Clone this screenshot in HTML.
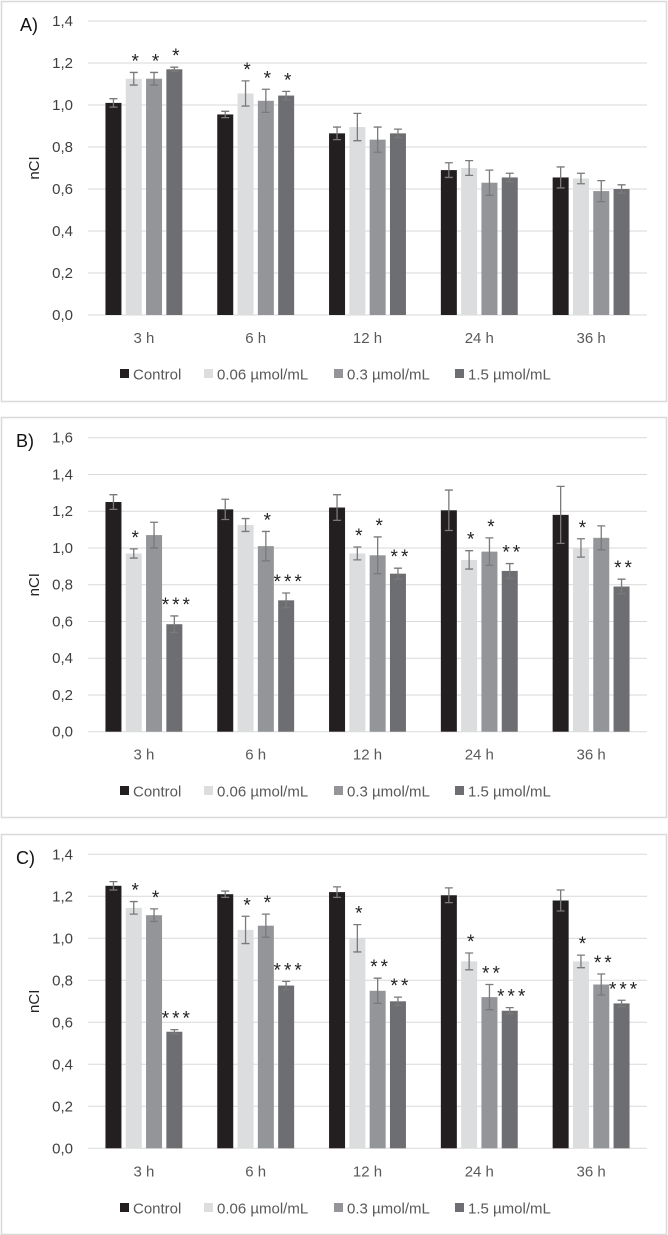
<!DOCTYPE html>
<html><head><meta charset="utf-8">
<style>
body{margin:0;background:#fff;width:668px;height:1235px;overflow:hidden;font-family:"Liberation Sans",sans-serif}
svg{display:block}
</style></head>
<body>
<svg id="fig" width="668" height="1235" xmlns="http://www.w3.org/2000/svg"></svg>
<script>
const categories = ["3 h","6 h","12 h","24 h","36 h"];
const seriesNames = ["Control","0.06 µmol/mL","0.3 µmol/mL","1.5 µmol/mL"];
const seriesColors = ["#231f20","#dcddde","#939598","#6d6e71"];

const aControl = [1.01,0.955,0.865,0.69,0.655];
const aLow = [1.125,1.055,0.895,0.70,0.65];
const aMid = [1.125,1.02,0.835,0.63,0.59];
const aHigh = [1.17,1.045,0.865,0.655,0.60];
const aErrControl = [0.02,0.015,0.03,0.035,0.05];
const aErrLow = [0.03,0.06,0.065,0.035,0.025];
const aErrMid = [0.03,0.055,0.06,0.06,0.05];
const aErrHigh = [0.01,0.02,0.02,0.02,0.02];
const aStars = [["","*","*","*"],["","*","*","*"],["","","",""],["","","",""],["","","",""]];
const aTicks = ["0,0","0,2","0,4","0,6","0,8","1,0","1,2","1,4"];

const bControl = [1.25,1.21,1.22,1.205,1.18];
const bLow = [0.97,1.125,0.97,0.935,1.0];
const bMid = [1.07,1.01,0.96,0.98,1.055];
const bHigh = [0.585,0.715,0.86,0.875,0.79];
const bErrControl = [0.04,0.055,0.07,0.11,0.155];
const bErrLow = [0.025,0.035,0.035,0.05,0.05];
const bErrMid = [0.07,0.08,0.1,0.075,0.065];
const bErrHigh = [0.045,0.04,0.03,0.04,0.04];
const bStars = [["","*","","***"],["","","*","***"],["","*","*","**"],["","*","*","**"],["","*","","**"]];
const bTicks = ["0,0","0,2","0,4","0,6","0,8","1,0","1,2","1,4","1,6"];

const cControl = [1.25,1.21,1.22,1.205,1.18];
const cLow = [1.145,1.04,1.0,0.89,0.89];
const cMid = [1.11,1.06,0.75,0.72,0.78];
const cHigh = [0.555,0.775,0.70,0.655,0.69];
const cErrControl = [0.02,0.015,0.025,0.035,0.05];
const cErrLow = [0.03,0.065,0.065,0.04,0.03];
const cErrMid = [0.03,0.055,0.06,0.06,0.05];
const cErrHigh = [0.01,0.02,0.02,0.015,0.015];
const cStars = [["","*","*","***"],["","*","*","***"],["","*","**","**"],["","*","**","***"],["","*","**","***"]];
const cTicks = ["0,0","0,2","0,4","0,6","0,8","1,0","1,2","1,4"];

const NS="http://www.w3.org/2000/svg";
const svg=document.getElementById('fig');
function mk(tag,attrs,parent){const e=document.createElementNS(NS,tag);for(const k in attrs)e.setAttribute(k,attrs[k]);(parent||svg).appendChild(e);return e;}

function panel(cfg){
  const g=mk('g',{});
  
  
  const box=mk('rect',{x:1.5,y:cfg.top+0.5,width:665,height:400,fill:'#fff',stroke:'#d9d9d9','stroke-width':1.5},g);
  
  
  const x0=88,x1=647,y0=cfg.y0,y1=cfg.yTop,ymax=cfg.ymax;
  const yS=v=>y0-(v/ymax)*(y0-y1);
  const gw=(x1-x0)/categories.length;
  const bw=16,gap=4.3;
  const xS=(ci,si)=>x0+ci*gw+(gw-(4*bw+3*gap))/2+si*(bw+gap);
  cfg.ticks.forEach((t,i)=>{
    const v=i*0.2;const y=yS(v);
    const gl=mk('line',{x1:x0,x2:x1,y1:y,y2:y,stroke:'#d9d9d9','stroke-width':1},g);
    
    
    const tl=mk('text',{x:73,y:y+5,'text-anchor':'end','font-size':15,fill:'#404040'},g);
    tl.textContent=t;
    
    
  });
  const yt=mk('text',{x:39,y:(y0+y1)/2,'text-anchor':'middle','font-size':15,fill:'#222',transform:`rotate(-90 39 ${(y0+y1)/2})`},g);
  yt.textContent='nCI';
  
  
  const pl=mk('text',{x:cfg.labelX,y:cfg.top+30,'font-size':18,fill:'#111'},g);
  pl.textContent=cfg.id+')';
  
  
  categories.forEach((c,ci)=>{
    const cl=mk('text',{x:x0+ci*gw+gw/2,y:y0+28,'text-anchor':'middle','font-size':15,fill:'#595959'},g);
    cl.textContent=c;
    
    
    for(let si=0;si<4;si++){
      const v=cfg.vals[si][ci],e=cfg.errs[si][ci];
      const x=xS(ci,si);
      const r=mk('rect',{x:x,y:yS(v),width:bw,height:y0-yS(v),fill:seriesColors[si]},g);
      
      
      const cx=x+bw/2,ya=yS(v+e),yb=yS(v-e);
      const eb=mk('path',{d:`M${cx},${ya}V${yb}M${cx-4},${ya}H${cx+4}M${cx-4},${yb}H${cx+4}`,stroke:'#7a7a7a','stroke-width':1.3,fill:'none'},g);
      
      
      const s=cfg.stars[ci][si];
      if(s){
        const st=mk('text',{x:cx+3,y:ya-5,'text-anchor':'middle','font-size':19,fill:'#222','letter-spacing':'3'},g);
        st.textContent=s;
        
        
      }
    }
  });
  const lx=[120,204,334,455];
  const ly=cfg.legendY;
  seriesNames.forEach((n,si)=>{
    const lg=mk('g',{},g);
    
    
    mk('rect',{x:lx[si],y:ly-5,width:9,height:9,fill:seriesColors[si]},lg);
    const t=mk('text',{x:lx[si]+13,y:ly+5.5,'font-size':15,fill:'#595959'},lg);
    t.textContent=n;
  });
}
panel({id:'A',top:1,y0:315,yTop:21,ymax:1.4,ticks:aTicks,labelX:20,legendY:374,
  vals:[aControl,aLow,aMid,aHigh],errs:[aErrControl,aErrLow,aErrMid,aErrHigh],stars:aStars});
panel({id:'B',top:417,y0:731.7,yTop:437.7,ymax:1.6,ticks:bTicks,labelX:16,legendY:791,
  vals:[bControl,bLow,bMid,bHigh],errs:[bErrControl,bErrLow,bErrMid,bErrHigh],stars:bStars});
panel({id:'C',top:834,y0:1148.3,yTop:854.3,ymax:1.4,ticks:cTicks,labelX:16,legendY:1208,
  vals:[cControl,cLow,cMid,cHigh],errs:[cErrControl,cErrLow,cErrMid,cErrHigh],stars:cStars});
</script>
</body></html>
